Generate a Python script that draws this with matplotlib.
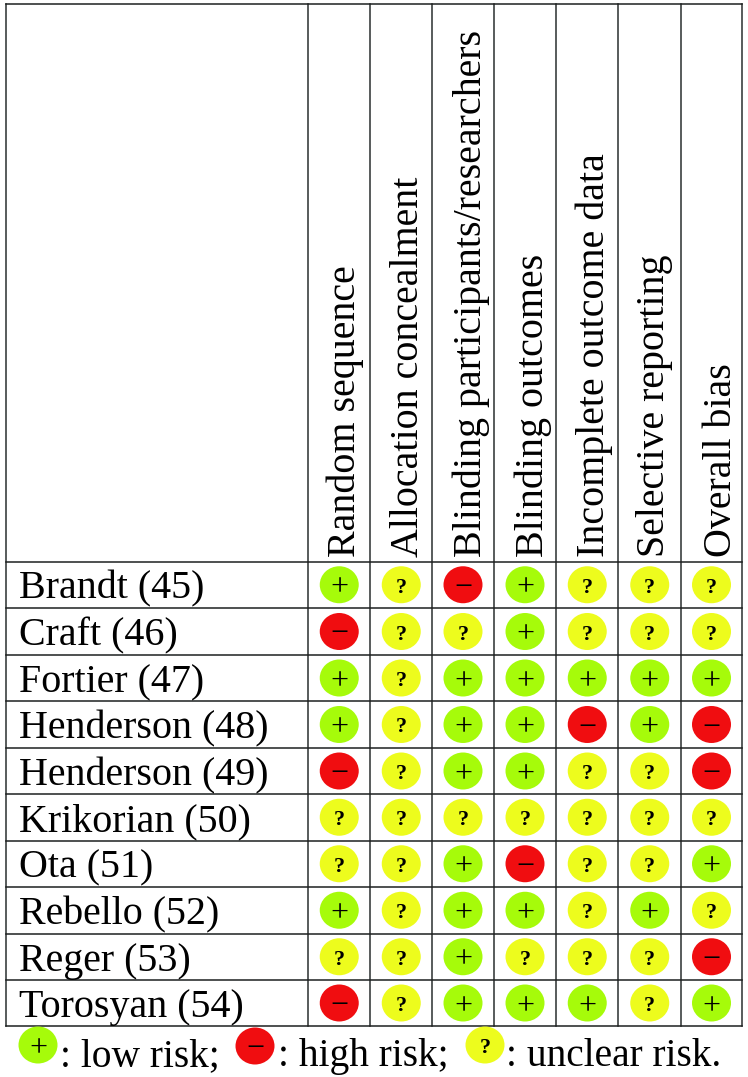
#!/usr/bin/env python3
# risk of bias table, redrawn in pixel coordinates of the reference
import matplotlib
matplotlib.use('Agg')
import matplotlib.pyplot as plt
from matplotlib.patches import Ellipse

studies = ['Brandt (45)', 'Craft (46)', 'Fortier (47)', 'Henderson (48)', 'Henderson (49)',
           'Krikorian (50)', 'Ota (51)', 'Rebello (52)', 'Reger (53)', 'Torosyan (54)']
domains = ['Random sequence', 'Allocation concealment', 'Blinding participants/researchers',
           'Blinding outcomes', 'Incomplete outcome data', 'Selective reporting', 'Overall bias']

# one list per domain, same order as studies
random_sequence = ['+', '-', '+', '+', '-', '?', '?', '+', '?', '-']
allocation      = ['?', '?', '?', '?', '?', '?', '?', '?', '?', '?']
blinding_part   = ['-', '?', '+', '+', '+', '?', '+', '+', '+', '+']
blinding_out    = ['+', '+', '+', '+', '+', '?', '-', '+', '?', '+']
incomplete      = ['?', '?', '+', '-', '?', '?', '?', '?', '?', '+']
selective       = ['?', '?', '+', '+', '?', '?', '?', '+', '?', '?']
overall         = ['?', '?', '+', '-', '-', '?', '+', '?', '-', '+']
ratings = [random_sequence, allocation, blinding_part, blinding_out, incomplete, selective, overall]

legend_labels = [': low risk;', ': high risk;', ': unclear risk.']
legend_marks = ['+', '-', '?']

colors = {'+': '#a6fb0a', '-': '#f00d10', '?': '#edfc1d'}
glyphs = {'+': '+', '-': '\u2212', '?': '?'}

# table grid in pixels
col_lines = [6.5, 308, 370.5, 432, 494, 556, 618.5, 681, 742]
row_lines = [4, 561.5, 608, 655, 701, 748, 794, 840.5, 887, 933.5, 980, 1026]
header_base = [355, 418, 481, 543, 604, 664, 731]
serif = 'Liberation Serif'
fs = 28.8

plt.rcParams['font.family'] = serif
fig = plt.figure(figsize=(7.48, 10.77), dpi=100)
ax = fig.add_axes([0, 0, 1, 1])
ax.set_xlim(0, 748)
ax.set_ylim(1077, 0)
ax.axis('off')


def draw_mark(x, y, mark, w=39, h=37):
    ax.add_patch(Ellipse((x, y), w, h, facecolor=colors[mark], edgecolor='none', zorder=2))
    if mark == '?':
        ax.text(x, y + 8, '?', fontsize=16, fontweight='bold', ha='center', va='baseline',
                color='black', zorder=3)
    else:
        ax.text(x, y, glyphs[mark], fontsize=23, ha='center', va='center_baseline',
                color='black', zorder=3)


# grid
for x in col_lines:
    ax.plot([x, x], [4, 1026], color='#2a2f2f', lw=1.1, zorder=1, solid_capstyle='projecting')
for y in row_lines:
    ax.plot([6.5, 742], [y, y], color='#1d2020', lw=1.1, zorder=1, solid_capstyle='projecting')

# header
for name, bx in zip(domains, header_base):
    ax.text(bx, 557, name, rotation=90, rotation_mode='anchor', ha='left', va='baseline',
            fontsize=fs, color='black')

# study rows
for i, name in enumerate(studies):
    y = (row_lines[i + 1] + row_lines[i + 2]) / 2
    ax.text(19, y + 14, name, fontsize=fs, ha='left', va='baseline', color='black')
    for j, col in enumerate(ratings):
        x = (col_lines[j + 1] + col_lines[j + 2]) / 2
        draw_mark(x, y, col[i])

# legend line
for mark, label, mx, tx, my in zip(legend_marks, legend_labels, [38, 255, 485], [60, 278, 506], [1045, 1046, 1045]):
    draw_mark(mx, my, mark)
    ax.text(tx, 1066, label, fontsize=28.4, ha='left', va='baseline', color='black')

fig.savefig('out.png', dpi=100)
